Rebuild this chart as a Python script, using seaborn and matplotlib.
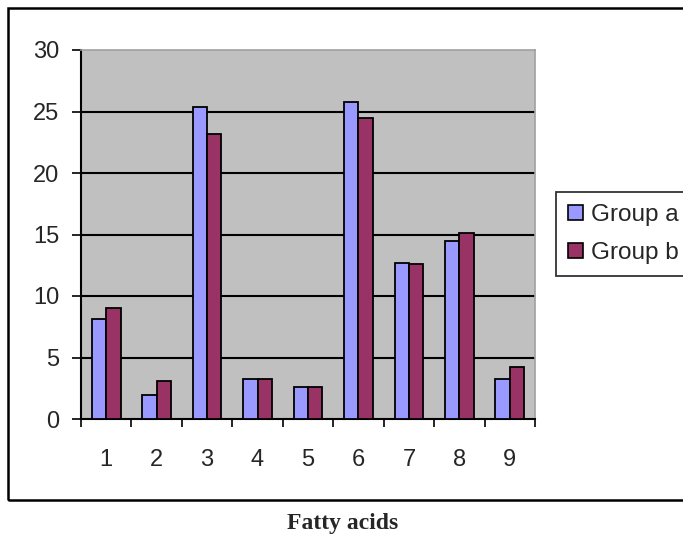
import pandas as pd
import matplotlib
matplotlib.use("Agg")
import matplotlib.pyplot as plt
import matplotlib.ticker as mticker
from matplotlib.patches import Rectangle
import seaborn as sns

# valores
acids = ["1", "2", "3", "4", "5", "6", "7", "8", "9"]
group_a = [8.15, 1.95, 25.4, 3.25, 2.6, 25.75, 12.7, 14.5, 3.25]
group_b = [9.0, 3.1, 23.15, 3.25, 2.6, 24.45, 12.6, 15.1, 4.25]
groups = ["Group a", "Group b"]
colors = ["#9999FF", "#993366"]
y_ticks = [0, 5, 10, 15, 20, 25, 30]

df = pd.DataFrame({
    "acid": acids * 2,
    "value": group_a + group_b,
    "group": [groups[0]] * len(acids) + [groups[1]] * len(acids),
})

sns.set_theme(style="white")
plt.rcParams["font.family"] = ["Liberation Sans", "DejaVu Sans"]

W, H = 683, 536
fig = plt.figure(figsize=(W / 100, H / 100), dpi=100)
ax = fig.add_axes([81 / W, 1 - 419 / H, (535 - 81) / W, (419 - 50) / H])

# marco exterior
fig.patches.append(Rectangle((8 / W, 1 - 500 / H), 1.0, (500 - 8) / H,
                             transform=fig.transFigure, fill=False,
                             edgecolor="black", linewidth=1.8, zorder=0))

ax.set_facecolor("#C0C0C0")
sns.barplot(data=df, x="acid", y="value", hue="group", palette=colors,
            order=acids, hue_order=groups, width=0.57, saturation=1,
            edgecolor="black", linewidth=1.3, ax=ax, zorder=3)

ax.set_ylim(0, 30)
ax.set_xlim(-0.5, len(acids) - 0.5)
ax.set_yticks(y_ticks)
ax.set_yticklabels([str(t) for t in y_ticks], fontsize=17)
ax.tick_params(axis="y", direction="out", length=6.5, width=1.2, pad=9,
               color="black", left=True)

# ticks x en los limites de categoria, etiquetas en el centro
ax.xaxis.set_major_locator(mticker.FixedLocator([i - 0.5 for i in range(len(acids) + 1)]))
ax.xaxis.set_major_formatter(mticker.NullFormatter())
ax.xaxis.set_minor_locator(mticker.FixedLocator(list(range(len(acids)))))
ax.xaxis.set_minor_formatter(mticker.FixedFormatter(acids))
ax.tick_params(axis="x", which="major", direction="out", length=6, width=1.2,
               color="black", bottom=True)
ax.tick_params(axis="x", which="minor", length=0, pad=21.5, labelsize=17)
ax.set_xlabel("")
ax.set_ylabel("")

ax.yaxis.grid(True, color="black", linewidth=1.5, zorder=1)
ax.set_axisbelow(True)
ax.yaxis.get_gridlines()[0].set_visible(False)
ax.yaxis.get_gridlines()[-1].set_visible(False)

for side in ["left", "bottom"]:
    ax.spines[side].set_color("black")
    ax.spines[side].set_linewidth(1.5)
for side in ["top", "right"]:
    ax.spines[side].set_color("#A0A0A0")
    ax.spines[side].set_linewidth(1.2)

leg = ax.legend(loc="upper left", bbox_to_anchor=(556 / W, 1 - 192 / H),
                bbox_transform=fig.transFigure, borderaxespad=0, fontsize=17.5,
                frameon=True, fancybox=False, handlelength=0.6, handleheight=0.6,
                handletextpad=0.35, labelspacing=0.65, borderpad=0.5)
leg.get_frame().set_edgecolor("black")
leg.get_frame().set_linewidth(1.3)
for h in leg.legend_handles:
    h.set_edgecolor("black")
    h.set_linewidth(1.2)

fig.text(343 / W, 1 - 523 / H, "Fatty acids", ha="center", va="center",
         fontsize=17, fontweight="bold", family=["Liberation Serif", "DejaVu Serif"])

fig.savefig("out.png", dpi=100)
